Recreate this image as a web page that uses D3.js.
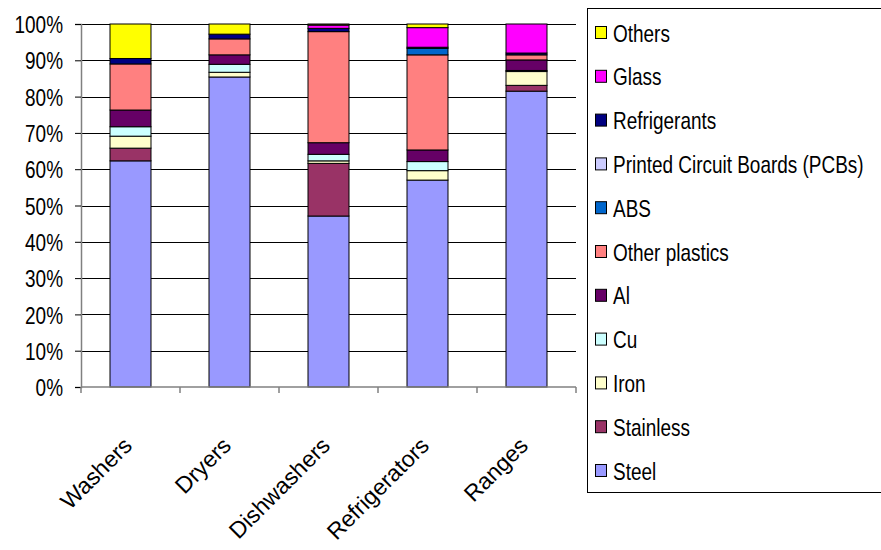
<!DOCTYPE html>
<html>
<head>
<meta charset="utf-8">
<script src="https://cdn.jsdelivr.net/npm/d3@7"></script>
<style>
  body { margin: 0; background: #fff; }
  svg { display: block; }
  text { font-family: "Liberation Sans", Arial, sans-serif; fill: #000; }
</style>
</head>
<body>
<svg id="chart" width="881" height="550"></svg>
<script>
// ---- Data ----
const categories = ["Washers", "Dryers", "Dishwashers", "Refrigerators", "Ranges"];
const seriesNames = ["Steel", "Stainless", "Iron", "Cu", "Al", "Other plastics", "ABS",
  "Printed Circuit Boards (PCBs)", "Refrigerants", "Glass", "Others"];
const steel         = [62.3, 85.4, 47.1, 57.0, 81.5];
const stainless     = [3.5, 0.0, 14.5, 0.0, 1.6];
const iron          = [3.3, 1.3, 0.7, 2.6, 3.8];
const cu            = [2.6, 2.2, 1.8, 2.5, 0.3];
const al            = [4.6, 2.6, 3.2, 3.2, 2.9];
const otherPlastics = [12.7, 4.4, 30.6, 26.2, 1.4];
const abs           = [0.0, 0.0, 0.0, 1.8, 0.0];
const pcbs          = [0.0, 0.0, 0.0, 0.0, 0.0];
const refrigerants  = [1.5, 1.3, 0.9, 0.3, 0.5];
const glass         = [0.0, 0.0, 0.9, 5.4, 8.0];
const others        = [9.5, 2.8, 0.3, 1.0, 0.0];
const yTicks = [0, 0.1, 0.2, 0.3, 0.4, 0.5, 0.6, 0.7, 0.8, 0.9, 1.0];
const colors = ["#9999FF", "#993366", "#FFFFCC", "#CCFFFF", "#660066", "#FF8080",
  "#0066CC", "#CCCCFF", "#000080", "#FF00FF", "#FFFF00"];

const seriesValues = [steel, stainless, iron, cu, al, otherPlastics, abs, pcbs, refrigerants, glass, others];
const table = categories.map((c, i) => {
  const row = { category: c };
  seriesNames.forEach((s, j) => row[s] = seriesValues[j][i]);
  return row;
});

// ---- Layout ----
const FS = "24px";
const SX = 0.79; // horizontal condensing of text
const svg = d3.select("#chart");
const plot = { left: 81, right: 576, top: 24, bottom: 387 };

const x = d3.scaleBand().domain(categories).range([plot.left, plot.right]).padding(0);
const barW = x.bandwidth() * 0.414;
const y = d3.scaleLinear().domain([0, 1]).range([plot.bottom, plot.top]);
const color = d3.scaleOrdinal().domain(seriesNames).range(colors);

const stack = d3.stack().keys(seriesNames).offset(d3.stackOffsetExpand);
const stacked = stack(table);

// gridlines
svg.append("g").selectAll("line").data(yTicks.filter(t => t > 0)).join("line")
  .attr("x1", plot.left).attr("x2", plot.right)
  .attr("y1", d => Math.round(y(d)) + 0.5).attr("y2", d => Math.round(y(d)) + 0.5)
  .attr("stroke", "#000").attr("stroke-width", 1);

// bars
const layers = svg.append("g").selectAll("g").data(stacked).join("g")
  .attr("fill", d => color(d.key));
layers.selectAll("rect").data(d => d.filter(p => p[1] - p[0] > 0)).join("rect")
  .attr("x", d => x(d.data.category) + (x.bandwidth() - barW) / 2)
  .attr("width", barW)
  .attr("y", d => y(d[1]))
  .attr("height", d => y(d[0]) - y(d[1]))
  .attr("stroke", "#000").attr("stroke-width", 1);

// y axis
const yAxis = d3.axisLeft(y).tickValues(yTicks).tickFormat(d3.format(".0%")).tickSize(6).tickPadding(0);
const gy = svg.append("g").attr("transform", `translate(${plot.left},0)`).call(yAxis);
gy.select(".domain").attr("stroke", "#808080").attr("stroke-width", 1.5);
gy.selectAll(".tick line").attr("stroke", "#000");
gy.selectAll(".tick text")
  .attr("x", 0).attr("dy", "0.36em")
  .attr("transform", `translate(-18,0) scale(${SX},1)`)
  .style("font-size", FS);

// x axis
const gx = svg.append("g").attr("transform", `translate(0,${plot.bottom})`);
gx.append("line").attr("x1", plot.left).attr("x2", plot.right).attr("y1", 0).attr("y2", 0)
  .attr("stroke", "#808080").attr("stroke-width", 1.5);
const boundaries = categories.map(c => x(c)).concat([x(categories[categories.length - 1]) + x.bandwidth()]);
gx.selectAll("line.tk").data(boundaries).join("line").attr("class", "tk")
  .attr("x1", d => d).attr("x2", d => d).attr("y1", 0).attr("y2", 6)
  .attr("stroke", "#808080").attr("stroke-width", 1.5);
gx.selectAll("text").data(categories).join("text")
  .attr("transform", d => `translate(${x(d) + x.bandwidth() / 2 + 3},${60}) rotate(-45)`)
  .attr("text-anchor", "end")
  .style("font-size", "23px")
  .text(d => d);

// legend
const legend = svg.append("g");
legend.append("rect").attr("x", 587.5).attr("y", 8.5).attr("width", 300).attr("height", 484)
  .attr("fill", "#fff").attr("stroke", "#000").attr("stroke-width", 1);
const legendItems = seriesNames.slice().reverse();
const li = legend.selectAll("g").data(legendItems).join("g")
  .attr("transform", (d, i) => `translate(595,${33 + i * 43.8})`);
li.append("rect").attr("x", 0.5).attr("y", -6.5).attr("width", 11).attr("height", 12)
  .attr("fill", d => color(d)).attr("stroke", "#000").attr("stroke-width", 1);
li.append("text").attr("transform", `translate(18,0) scale(${SX},1)`).attr("dy", "0.36em")
  .style("font-size", FS).text(d => d);
</script>
</body>
</html>
